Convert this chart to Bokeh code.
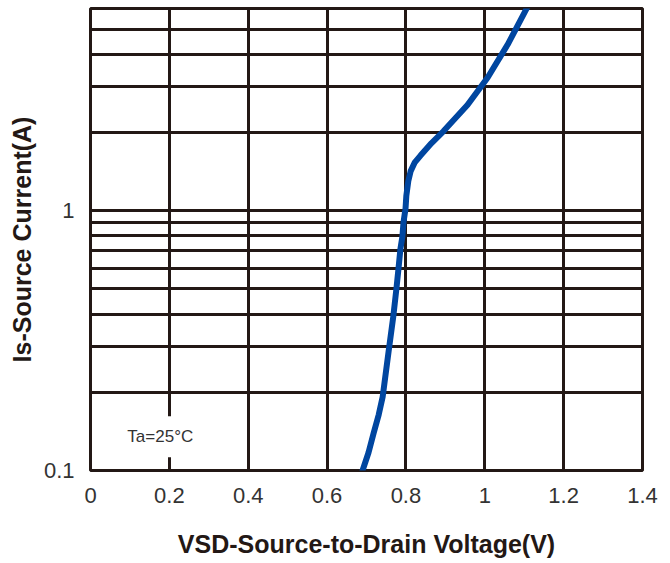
from bokeh.plotting import figure
from bokeh.models import FixedTicker, CustomJSTickFormatter, Label, Range1d
from bokeh.embed import file_html
from bokeh.resources import INLINE

# data
vsd = [0.690, 0.705, 0.718, 0.731, 0.741, 0.756, 0.768, 0.776, 0.781, 0.786, 0.791, 0.794,
       0.799, 0.801, 0.806, 0.812, 0.822, 0.837, 0.865, 0.895, 0.956, 1.007, 1.058, 1.108]
i_s = [0.100, 0.117, 0.139, 0.164, 0.192, 0.287, 0.392, 0.503, 0.596, 0.712, 0.794, 0.906,
       1.02, 1.14, 1.30, 1.42, 1.53, 1.63, 1.82, 2.02, 2.55, 3.25, 4.36, 6.07]

x_ticks = [0, 0.2, 0.4, 0.6, 0.8, 1, 1.2, 1.4]
y_major = [0.1, 1]
y_minor = [0.2, 0.3, 0.4, 0.5, 0.6, 0.7, 0.8, 0.9, 2, 3, 4, 5]

GRID = "#231815"
FONT = "Liberation Sans"

p = figure(width=670, height=563, y_axis_type="log",
           x_range=Range1d(0, 1.4), y_range=Range1d(0.1, 6),
           output_backend="svg", toolbar_location=None,
           min_border_left=90, min_border_right=28,
           min_border_top=8, min_border_bottom=93)
p.background_fill_color = "white"
p.border_fill_color = "white"
p.outline_line_color = GRID
p.outline_line_width = 3

p.xaxis.ticker = FixedTicker(ticks=x_ticks)
p.yaxis.ticker = FixedTicker(ticks=y_major, minor_ticks=y_minor)
p.xgrid.ticker = FixedTicker(ticks=x_ticks)
p.ygrid.ticker = FixedTicker(ticks=y_major, minor_ticks=y_minor)

p.xaxis.formatter = CustomJSTickFormatter(code="return String(Math.round(tick*10)/10);")
p.yaxis.formatter = CustomJSTickFormatter(code="return String(Math.round(tick*10)/10);")

for g in (p.xgrid, p.ygrid):
    g.grid_line_color = GRID
    g.grid_line_width = 3
    g.grid_line_alpha = 1
p.ygrid.minor_grid_line_color = GRID
p.ygrid.minor_grid_line_width = 3

for ax in (p.xaxis, p.yaxis):
    ax.axis_line_color = None
    ax.major_tick_line_color = None
    ax.minor_tick_line_color = None
    ax.major_tick_out = 0
    ax.major_tick_in = 0
    ax.minor_tick_out = 0
    ax.minor_tick_in = 0
    ax.major_label_text_font = FONT
    ax.major_label_text_font_size = "22px"
    ax.major_label_text_color = "#333333"
    ax.axis_label_text_font = FONT
    ax.axis_label_text_font_size = "25px"
    ax.axis_label_text_font_style = "bold"
    ax.axis_label_text_color = "#231815"

p.xaxis.major_label_standoff = 17
p.xaxis.axis_label_standoff = 24
p.yaxis.major_label_standoff = 16
p.yaxis.axis_label_standoff = 5
p.xaxis.axis_label = "VSD-Source-to-Drain Voltage(V)"
p.yaxis.axis_label = "Is-Source Current(A)"

p.line(vsd, i_s, line_color="#0046a0", line_width=6,
       line_join="round", line_cap="round")

p.add_layout(Label(x=0.177, y=0.135, text="Ta=25°C", text_font=FONT,
                   text_font_size="17px", text_color="#333333",
                   text_align="center", text_baseline="middle",
                   background_fill_color="white", padding=11))

open("out.html", "w").write(file_html(p, INLINE))
